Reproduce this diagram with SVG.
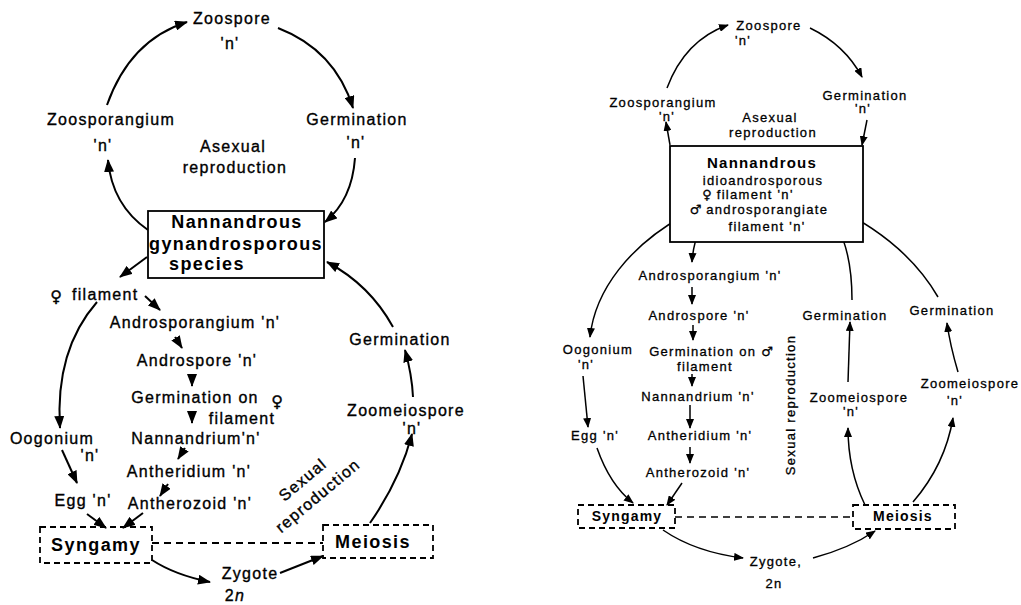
<svg xmlns="http://www.w3.org/2000/svg" width="1021" height="605" viewBox="0 0 1021 605">
  <style>
    .t{font-family:"Liberation Sans",Arial,sans-serif;font-size:16px;letter-spacing:1.3px;fill:#000;stroke:#000;stroke-width:0.35px;text-anchor:middle}
    .tb{font-family:"Liberation Sans",Arial,sans-serif;font-size:18px;font-weight:bold;letter-spacing:1.4px;fill:#000;text-anchor:middle}
    .s{font-family:"Liberation Sans",Arial,sans-serif;font-size:13px;letter-spacing:1.3px;fill:#000;stroke:#000;stroke-width:0.3px;text-anchor:middle}
    .sb{font-family:"Liberation Sans",Arial,sans-serif;font-size:14px;font-weight:bold;letter-spacing:1.2px;fill:#000;text-anchor:middle}
    .sym{font-family:"DejaVu Sans",sans-serif;letter-spacing:0}
    .box{fill:#fff;stroke:#000;stroke-width:1.8}
    .dbox{fill:none;stroke:#000;stroke-width:1.8;stroke-dasharray:6 4}
    .big path{fill:none;stroke:#000;stroke-width:2}
    .small path{fill:none;stroke:#000;stroke-width:1.5}
    .dash{stroke-dasharray:7 5}
  </style>
  <defs>
    <marker id="ah" markerUnits="userSpaceOnUse" markerWidth="13" markerHeight="10" refX="12" refY="5" orient="auto">
      <path d="M0,0 L13,5 L0,10 z" fill="#000"/>
    </marker>
    <marker id="ahs" markerUnits="userSpaceOnUse" markerWidth="10" markerHeight="8" refX="9" refY="4" orient="auto">
      <path d="M0,0 L10,4 L0,8 z" fill="#000"/>
    </marker>
  </defs>

  <!-- ===== Gynandrosporous cycle (left) ===== -->
  <g id="left-connectors" class="big">
    <path d="M107,105 Q130,40 187,22" marker-end="url(#ah)"/>
    <path d="M278,28 Q335,50 353,108" marker-end="url(#ah)"/>
    <path d="M148,230 Q112,205 108,160" marker-end="url(#ah)"/>
    <path d="M355,158 Q352,200 325,222" marker-end="url(#ah)"/>
    <path d="M147,257 L120,277" marker-end="url(#ah)"/>
    <path d="M145,296 L160,310" marker-end="url(#ah)"/>
    <path d="M175,337 L182,348" marker-end="url(#ah)"/>
    <path d="M192,374 L192,386" marker-end="url(#ah)"/>
    <path d="M192,411 L192,423" marker-end="url(#ah)"/>
    <path d="M185,448 L178,459" marker-end="url(#ah)"/>
    <path d="M168,484 L160,496" marker-end="url(#ah)"/>
    <path d="M97,302 Q55,350 60,428" marker-end="url(#ah)"/>
    <path d="M62,450 L77,483" marker-end="url(#ah)"/>
    <path d="M87,514 L106,528" marker-end="url(#ah)"/>
    <path d="M143,513 L123,528" marker-end="url(#ah)"/>
    <path class="dash" d="M152,543 L323,543"/>
    <path d="M152,560 Q175,575 210,582" marker-end="url(#ah)"/>
    <path d="M280,573 Q300,565 323,556" marker-end="url(#ah)"/>
    <path d="M370,523 Q400,480 412,434" marker-end="url(#ah)"/>
    <path d="M413,397 Q412,375 405,350" marker-end="url(#ah)"/>
    <path d="M393,327 Q370,285 327,262" marker-end="url(#ah)"/>
  </g>

  <g id="l-zoospore"><text class="t" x="232" y="24">Zoospore</text><text class="t" x="230" y="49">'n'</text></g>
  <g id="l-zoosporangium"><text class="t" x="111" y="125">Zoosporangium</text><text class="t" x="103" y="151">'n'</text></g>
  <g id="l-germination-top"><text class="t" x="357" y="125">Germination</text><text class="t" x="356" y="148">'n'</text></g>
  <g id="l-asexual"><text class="t" x="233" y="152">Asexual</text><text class="t" x="235" y="173">reproduction</text></g>
  <g id="l-species">
    <rect class="box" x="148" y="211" width="176" height="67"/>
    <text class="tb" x="237" y="228">Nannandrous</text>
    <text class="tb" x="236" y="250">gynandrosporous</text>
    <text class="tb" x="207" y="270">species</text>
  </g>
  <g id="l-female-filament"><text class="t" x="56" y="302"><tspan class="sym">♀</tspan></text><text class="t" x="72" y="300" style="text-anchor:start">filament</text></g>
  <g id="l-androsporangium"><text class="t" x="195" y="328">Androsporangium 'n'</text></g>
  <g id="l-androspore"><text class="t" x="197" y="366">Androspore 'n'</text></g>
  <g id="l-germination-on"><text class="t" x="195" y="403">Germination on</text><text class="t" x="277" y="407"><tspan class="sym">♀</tspan></text><text class="t" x="242" y="424">filament</text></g>
  <g id="l-nannandrium"><text class="t" x="196" y="444">Nannandrium'n'</text></g>
  <g id="l-antheridium"><text class="t" x="189" y="477">Antheridium 'n'</text></g>
  <g id="l-antherozoid"><text class="t" x="190" y="509">Antherozoid 'n'</text></g>
  <g id="l-oogonium"><text class="t" x="52" y="444">Oogonium</text><text class="t" x="90" y="461">'n'</text></g>
  <g id="l-egg"><text class="t" x="83" y="506">Egg 'n'</text></g>
  <g id="l-syngamy"><rect class="dbox" x="40" y="527" width="112" height="36"/><text class="tb" x="96" y="551">Syngamy</text></g>
  <g id="l-meiosis"><rect class="dbox" x="323" y="525" width="110" height="33"/><text class="tb" x="373" y="548">Meiosis</text></g>
  <g id="l-zygote"><text class="t" x="250" y="579">Zygote</text><text class="t" x="235" y="601">2<tspan font-style="italic">n</tspan></text></g>
  <g id="l-zoomeiospore"><text class="t" x="406" y="416">Zoomeiospore</text><text class="t" x="412" y="434">'n'</text></g>
  <g id="l-germination-right"><text class="t" x="400" y="345">Germination</text></g>
  <g id="l-sexual">
    <text class="t" transform="translate(303,480) rotate(-40)" y="5">Sexual</text>
    <text class="t" transform="translate(318,496) rotate(-40)" y="5">reproduction</text>
  </g>

  <!-- ===== Idioandrosporous cycle (right) ===== -->
  <g id="right-connectors" class="small">
    <path d="M667,88 Q685,40 728,25" marker-end="url(#ahs)"/>
    <path d="M810,28 Q845,45 862,77" marker-end="url(#ahs)"/>
    <path d="M670,145 L666,122" marker-end="url(#ahs)"/>
    <path d="M867,120 L862,145" marker-end="url(#ahs)"/>
    <path d="M685,215 C630,245 595,290 590,337" marker-end="url(#ahs)"/>
    <path d="M700,228 Q693,245 692,262" marker-end="url(#ahs)"/>
    <path d="M692,287 L692,304" marker-end="url(#ahs)"/>
    <path d="M693,325 L693,340" marker-end="url(#ahs)"/>
    <path d="M692,374 L692,386" marker-end="url(#ahs)"/>
    <path d="M690,405 L690,428" marker-end="url(#ahs)"/>
    <path d="M690,447 L690,463" marker-end="url(#ahs)"/>
    <path d="M682,483 L667,505" marker-end="url(#ahs)"/>
    <path d="M583,376 L588,427" marker-end="url(#ahs)"/>
    <path d="M597,448 Q610,485 633,503" marker-end="url(#ahs)"/>
    <path class="dash" d="M675,517 L853,517"/>
    <path d="M663,530 Q695,552 743,558" marker-end="url(#ahs)"/>
    <path d="M813,558 Q850,548 875,531" marker-end="url(#ahs)"/>
    <path d="M865,505 Q848,470 848,428" marker-end="url(#ahs)"/>
    <path d="M848,382 L850,322" marker-end="url(#ahs)"/>
    <path d="M852,300 Q852,255 838,228" marker-end="url(#ahs)"/>
    <path d="M958,372 Q950,345 947,323" marker-end="url(#ahs)"/>
    <path d="M913,502 Q945,465 953,418" marker-end="url(#ahs)"/>
    <path d="M938,297 Q905,240 830,205" marker-end="url(#ahs)"/>
  </g>

  <g id="r-zoospore"><text class="s" x="769" y="30">Zoospore</text><text class="s" x="743" y="45">'n'</text></g>
  <g id="r-zoosporangium"><text class="s" x="663" y="107">Zoosporangium</text><text class="s" x="667" y="121">'n'</text></g>
  <g id="r-germination-top"><text class="s" x="865" y="100">Germination</text><text class="s" x="863" y="113">'n'</text></g>
  <g id="r-asexual"><text class="s" x="770" y="122">Asexual</text><text class="s" x="773" y="137">reproduction</text></g>
  <g id="r-species">
    <rect class="box" x="670" y="146" width="193" height="96"/>
    <text class="sb" x="762" y="168" style="font-size:15px">Nannandrous</text>
    <text class="s" x="763" y="185">idioandrosporous</text>
    <text class="s" x="748" y="199"><tspan class="sym">♀</tspan> filament 'n'</text>
    <text class="s" x="759" y="214"><tspan class="sym">♂</tspan> androsporangiate</text>
    <text class="s" x="767" y="231">filament 'n'</text>
  </g>
  <g id="r-androsporangium"><text class="s" x="710" y="280">Androsporangium 'n'</text></g>
  <g id="r-androspore"><text class="s" x="699" y="320">Androspore 'n'</text></g>
  <g id="r-germination-on"><text class="s" x="711" y="356">Germination on <tspan class="sym">♂</tspan></text><text class="s" x="705" y="371">filament</text></g>
  <g id="r-nannandrium"><text class="s" x="698" y="401">Nannandrium 'n'</text></g>
  <g id="r-antheridium"><text class="s" x="700" y="440">Antheridium 'n'</text></g>
  <g id="r-antherozoid"><text class="s" x="698" y="477">Antherozoid 'n'</text></g>
  <g id="r-oogonium"><text class="s" x="598" y="354">Oogonium</text><text class="s" x="586" y="369">'n'</text></g>
  <g id="r-egg"><text class="s" x="595" y="440">Egg 'n'</text></g>
  <g id="r-syngamy"><rect class="dbox" x="578" y="505" width="97" height="23"/><text class="sb" x="627" y="521">Syngamy</text></g>
  <g id="r-meiosis"><rect class="dbox" x="853" y="505" width="102" height="24"/><text class="sb" x="903" y="521">Meiosis</text></g>
  <g id="r-zygote"><text class="s" x="776" y="566">Zygote,</text><text class="s" x="774" y="588">2n</text></g>
  <g id="r-zoomeiospore-mid"><text class="s" x="859" y="402">Zoomeiospore</text><text class="s" x="851" y="416">'n'</text></g>
  <g id="r-germination-mid"><text class="s" x="845" y="320">Germination</text></g>
  <g id="r-germination-right"><text class="s" x="952" y="315">Germination</text></g>
  <g id="r-zoomeiospore-right"><text class="s" x="970" y="388">Zoomeiospore</text><text class="s" x="955" y="405">'n'</text></g>
  <g id="r-sexual"><text class="s" transform="translate(795,405) rotate(-90)">Sexual reproduction</text></g>
</svg>
